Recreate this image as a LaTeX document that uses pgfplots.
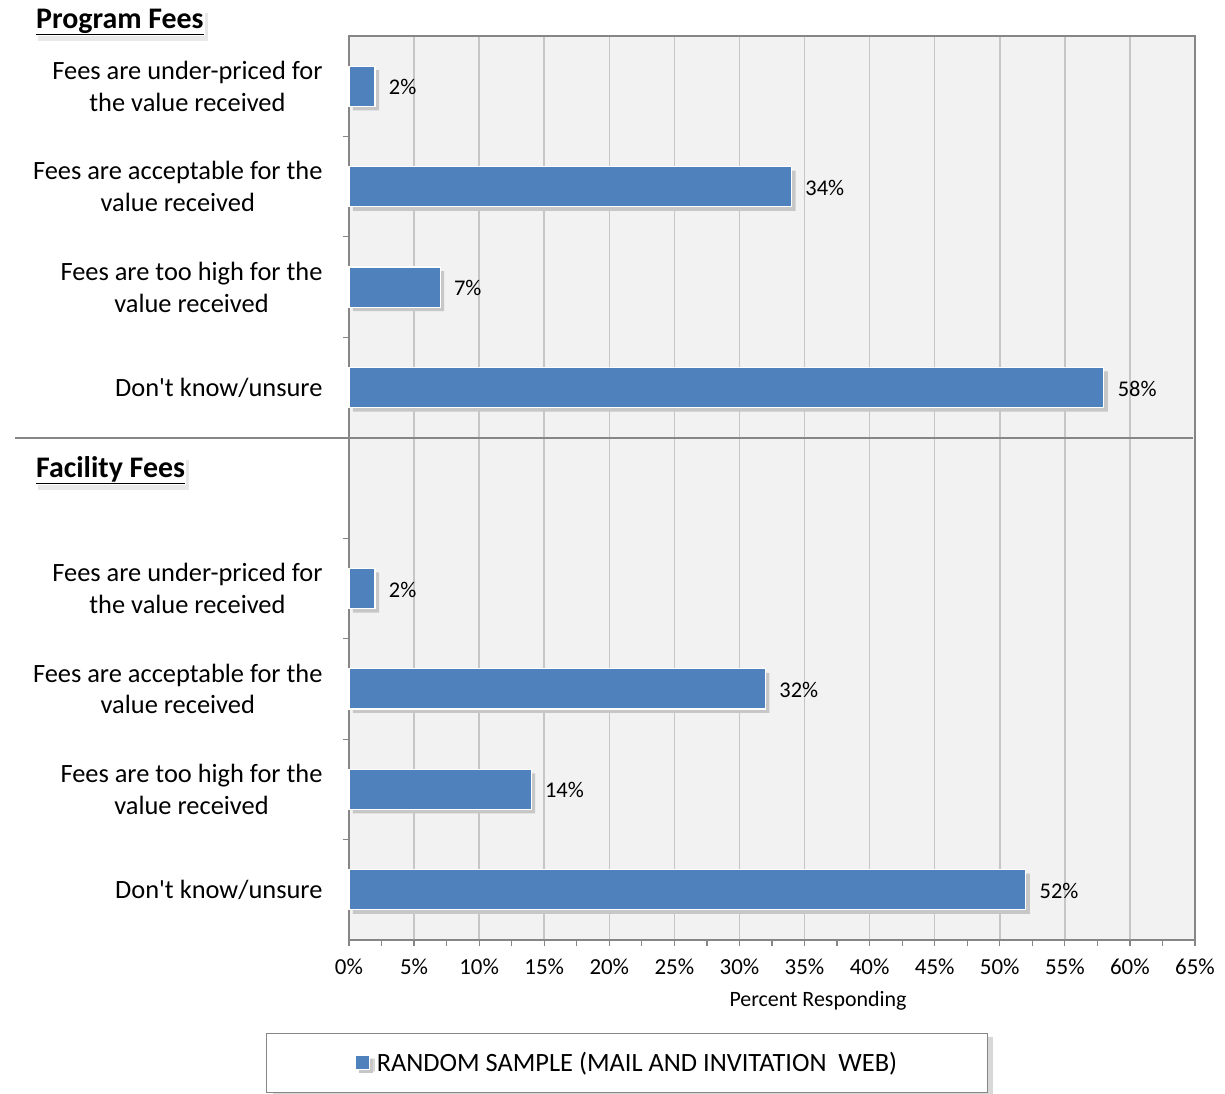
\documentclass[border=0pt]{standalone}
\usepackage{fontspec}
\setmainfont{Carlito}
\usepackage{pgfplots}
\pgfplotsset{compat=1.18}
\usetikzlibrary{shadows}
\definecolor{barblue}{HTML}{4F81BD}
\definecolor{axgray}{HTML}{868686}
\definecolor{gridgray}{HTML}{C6C6C6}
\definecolor{plotbg}{HTML}{F2F2F2}
\begin{document}
\begin{tikzpicture}
\begin{axis}[
  scale only axis, width=846bp, height=904bp,
  xbar, bar width=0.4,
  xmin=0, xmax=65, ymin=0.5, ymax=9.5, y dir=reverse,
  clip=false,
  axis background/.style={fill=plotbg},
  axis line style={axgray, line width=1.6bp},
  xtick={0,5,...,65}, minor x tick num=1,
  xticklabel={\pgfmathprintnumber{\tick}\%},
  /pgf/number format/assume math mode=true,
  xticklabel style={font=\fontsize{23}{26}\selectfont, yshift=-9bp},
  xmajorgrids, major grid style={gridgray, line width=1.5bp},
  tick style={axgray, line width=1.2bp},
  tick align=outside, major tick length=6bp, minor tick length=6bp,
  xtick pos=bottom, ytick pos=left,
  ytick={1,2,3,4,6,7,8,9},
  ytick style={draw=none},
  yticklabels={{Fees are under-priced for\\the value received},
               {Fees are acceptable for the\\value received},
               {Fees are too high for the\\value received},
               {Don\textquotesingle t know/unsure},
               {Fees are under-priced for\\the value received},
               {Fees are acceptable for the\\value received},
               {Fees are too high for the\\value received},
               {Don\textquotesingle t know/unsure}},
  yticklabel style={align=center, font=\fontsize{26.5}{32}\selectfont, xshift=-17bp},
  extra y ticks={1.5,2.5,3.5,5.5,6.5,7.5,8.5},
  extra y tick labels={},
  extra y tick style={ytick style={draw=axgray, line width=1.2bp}},
  xlabel={Percent Responding},
  xlabel style={font=\fontsize{22}{25}\selectfont, xshift=46bp, yshift=-10bp},
  nodes near coords={\pgfmathprintnumber{\pgfplotspointmeta}\%},
  nodes near coords style={font=\fontsize{22.5}{25}\selectfont, text=black, anchor=west, xshift=10bp, yshift=-1bp},
  legend style={at={(0.3286,-0.136)}, anchor=center, draw=axgray, line width=1.2bp,
    font=\fontsize{26.5}{30}\selectfont, inner xsep=88bp, inner ysep=17bp,
    drop shadow={shadow xshift=6bp, shadow yshift=-3bp, fill=black!30}},
  legend image code/.code={\draw[fill=barblue, draw=white, line width=0.8bp] (0bp,-6bp) rectangle (14bp,8bp);
    \path (19bp,0bp);},
]
\addplot[fill=barblue, draw=white, line width=1.2bp,
  preaction={fill=black!22, draw=none, transform canvas={xshift=4bp, yshift=-4bp}}]
  coordinates {(2,1) (34,2) (7,3) (58,4) (2,6) (32,7) (14,8) (52,9)};
\addlegendentry{RANDOM SAMPLE (MAIL AND INVITATION\ \ WEB)}
\draw[axgray, line width=2bp] ([xshift=-334bp]axis cs:0,4.5) -- (axis cs:64.85,4.5);
\node[anchor=west, font=\fontsize{30}{34}\selectfont\bfseries, inner sep=1bp, fill=white,
  drop shadow={fill=black!18, shadow xshift=3bp, shadow yshift=-5bp}]
  at ([xshift=-314bp]axis cs:0,0.36) {\underline{Program Fees}};
\node[anchor=west, font=\fontsize{30}{34}\selectfont\bfseries, inner sep=1bp, fill=white,
  drop shadow={fill=black!18, shadow xshift=3bp, shadow yshift=-5bp}]
  at ([xshift=-314bp]axis cs:0,4.82) {\underline{Facility Fees}};
\end{axis}
\pgfresetboundingbox
\path ([shift={(-349bp,-154bp)}]current axis.south west) rectangle ([shift={(30bp,36bp)}]current axis.north east);
\end{tikzpicture}
\end{document}
